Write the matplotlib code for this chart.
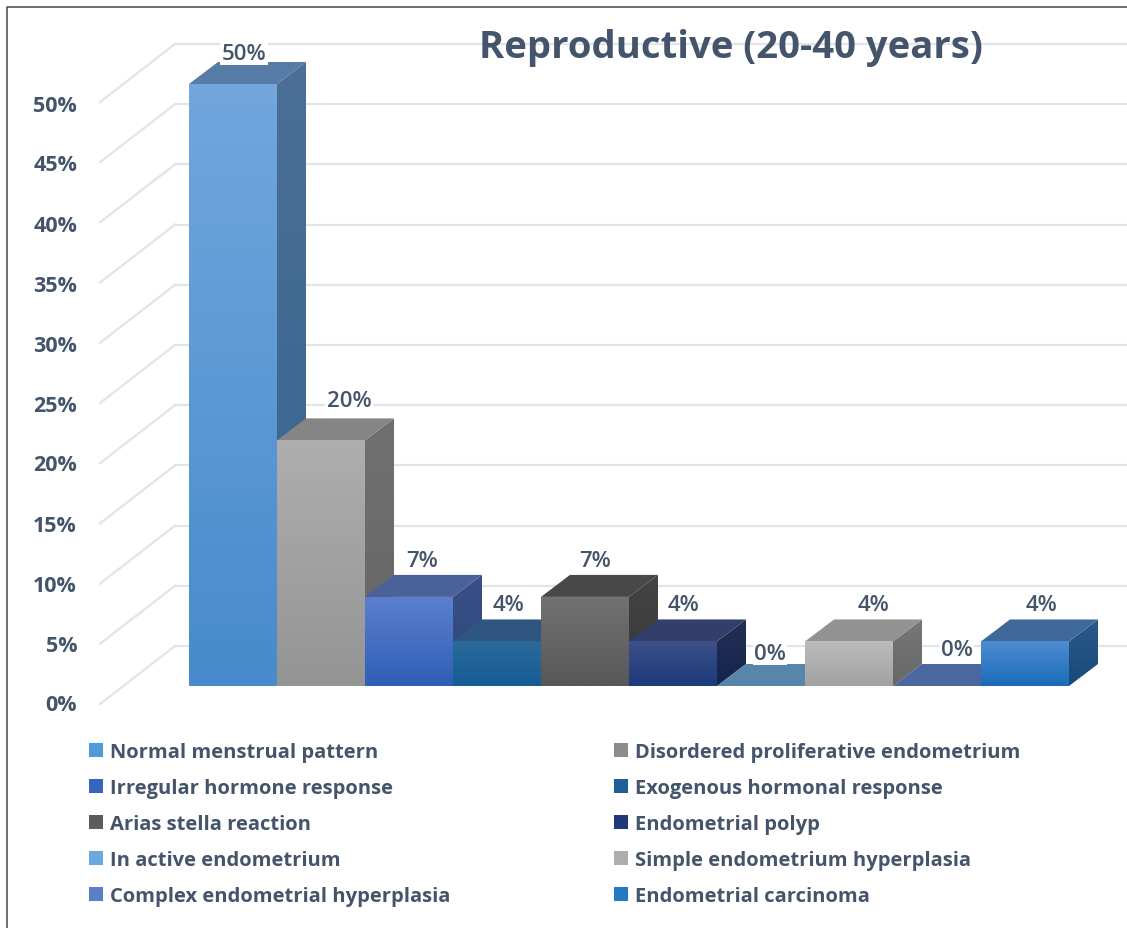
import numpy as np
import matplotlib
matplotlib.use('Agg')
import matplotlib.pyplot as plt
from matplotlib.colors import LinearSegmentedColormap
from matplotlib.lines import Line2D
from matplotlib.patches import Patch, Polygon

categories = ['Normal menstrual pattern', 'Disordered proliferative endometrium',
              'Irregular hormone response', 'Exogenous hormonal response',
              'Arias stella reaction', 'Endometrial polyp',
              'In active endometrium', 'Simple endometrium hyperplasia',
              'Complex endometrial hyperplasia', 'Endometrial carcinoma']
values = [50, 20.4, 7.4, 3.7, 7.4, 3.7, 0, 3.7, 0, 3.7]
value_labels = ['50%', '20%', '7%', '4%', '7%', '4%', '0%', '4%', '0%', '4%']
y_ticks = [0, 5, 10, 15, 20, 25, 30, 35, 40, 45, 50]

front_top = ['#72a6dd', '#aeaeae', '#5c7fcd', '#2a6a9a', '#727272', '#3d5088', '#6aa6dc', '#bcbcbc', '#5a7fc8', '#4f8cd2']
front_bot = ['#478bcd', '#949494', '#2e5fb6', '#155c96', '#585858', '#1b3a7b', '#6aa6dc', '#a2a2a2', '#5a7fc8', '#1a6cb8']
top_col = ['#567ba6', '#858585', '#4a6199', '#2f5680', '#484848', '#333f6a', '#5a85ab', '#929292', '#4a689f', '#40699b']
side_top = ['#4b6f96', '#707070', '#3a4f86', '#27527c', '#444444', '#262f55', '#5a85ab', '#777777', '#4a689f', '#2b5a8a']
side_bot = ['#33648f', '#666666', '#2a4a80', '#1a4a72', '#383838', '#13244d', '#5a85ab', '#686868', '#4a689f', '#174a78']
legend_col = ['#4f9bd9', '#8c8c8c', '#3565bd', '#1c6097', '#5c5c5c', '#1f3a7c', '#6aa8dd', '#adadad', '#5a7fc8', '#2478c4']

# pixel layout of the picture
W, H = 1127, 929
X0, BAR_W = 189, 88
Y0, PER_PCT = 687, 12.04
DX = 29 / BAR_W
DY = 22 / PER_PCT
TXT = '#44546a'
plt.rcParams['font.family'] = ['Open Sans', 'DejaVu Sans']


def px_x(p):
    return (p - X0) / BAR_W


def px_y(p):
    return (Y0 - p) / PER_PCT


def shade(ax, pts, c_top, c_bot, z):
    pts = np.asarray(pts)
    cmap = LinearSegmentedColormap.from_list('f', [c_top, c_bot])
    im = ax.imshow(np.linspace(0, 1, 64).reshape(-1, 1), cmap=cmap, aspect='auto', zorder=z,
                   extent=[pts[:, 0].min(), pts[:, 0].max(), pts[:, 1].min(), pts[:, 1].max()])
    clip = Polygon(pts, closed=True, transform=ax.transData, fc='none', ec='none')
    ax.add_patch(clip)
    im.set_clip_path(clip)


fig = plt.figure(figsize=(W / 100, H / 100), dpi=100)
ax = fig.add_axes([0, 0, 1, 1])

# walls
back_y = px_y(647)
for t in y_ticks:
    y = t + back_y
    ax.plot([px_x(175), px_x(W)], [y, y], color='#e1e4ec', lw=1.6, zorder=1)
    ax.plot([px_x(100), px_x(175)], [y - 58 / PER_PCT, y], color='#e1e4ec', lw=1.6, zorder=1)
    ax.text(px_x(77), t * 12 / PER_PCT + px_y(706), f'{t}%', ha='right', va='center', color=TXT,
            fontsize=15.5, fontweight='bold', zorder=5)

# bars, left to right so each one hides the side of the one before
for i, v in enumerate(values):
    z = 2 + i * 0.1
    if v > 0:
        shade(ax, [(i + 1, 0), (i + 1 + DX, DY), (i + 1 + DX, v + DY), (i + 1, v)], side_top[i], side_bot[i], z)
        shade(ax, [(i, 0), (i + 1, 0), (i + 1, v), (i, v)], front_top[i], front_bot[i], z + 0.02)
    ax.add_patch(Polygon([(i, v), (i + 1, v), (i + 1 + DX, v + DY), (i + DX, v + DY)], closed=True,
                         fc=top_col[i], ec='none', zorder=z + 0.01))

# value labels, offset in pixels from the middle of each bar top
lab_dx = [11, 28, 13, 11, 10, 10, 9, 24, 20, 17]
lab_dy = [31, 40, 36, 37, 36, 37, 33, 37, 36, 37]
for i, v in enumerate(values):
    ax.annotate(value_labels[i], (i + 0.5, v), xytext=(lab_dx[i] * 0.72, lab_dy[i] * 0.72),
                textcoords='offset points', ha='center', va='center', color=TXT, fontsize=16,
                fontweight='semibold', zorder=6,
                bbox=dict(fc='white', ec='none', pad=1.0))

ax.text(px_x(731), px_y(48), 'Reproductive (20-40 years)', ha='center', va='center', color=TXT,
        fontsize=27.5, fontweight='bold', zorder=6)

# legend reads down the columns, the picture reads across the rows
order = [0, 2, 4, 6, 8, 1, 3, 5, 7, 9]
handles = [Patch(fc=legend_col[i], ec='none', label=categories[i]) for i in order]
leg = ax.legend(handles=handles, ncol=2, frameon=False, loc='upper left',
                bbox_to_anchor=(89 / W, 1 - 743 / H), fontsize=14.5, labelcolor=TXT,
                handlelength=0.7, handleheight=0.7, handletextpad=0.35, labelspacing=0.79,
                columnspacing=8.1, borderpad=0, borderaxespad=0)
for t in leg.get_texts():
    t.set_fontweight('bold')

ax.set_xlim(px_x(0), px_x(W))
ax.set_ylim(px_y(H), px_y(0))
ax.axis('off')

# picture frame, left and top only
fig.add_artist(Line2D([7 / W, 7 / W, 1], [0, 1 - 8 / H, 1 - 8 / H], color='#555555', lw=1.2))

fig.savefig('out.png', dpi=100)
